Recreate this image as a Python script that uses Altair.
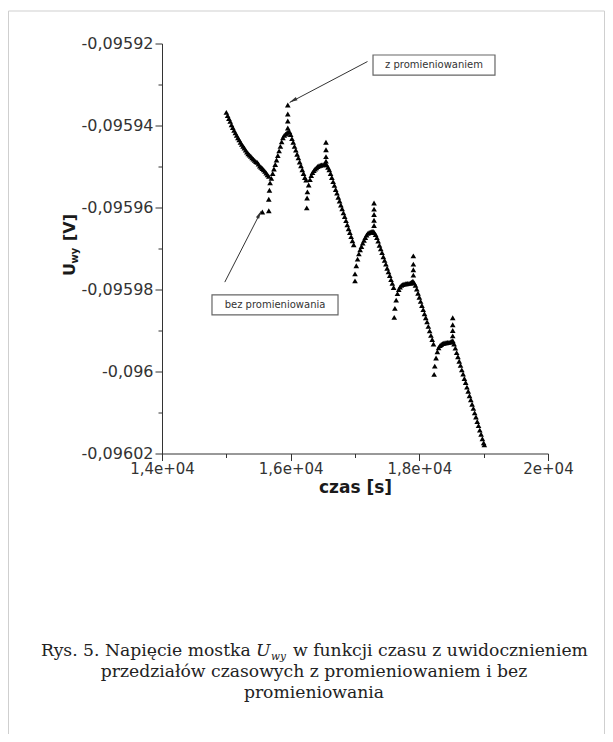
import altair as alt
import pandas as pd

# ---------------- data: time [s] and bridge voltage U_wy [V] ----------------
seg1_t = [15000, 15020, 15040, 15060, 15080, 15100, 15120, 15140, 15160, 15180,
          15200, 15220, 15240, 15260, 15280, 15300, 15320, 15340, 15360, 15380,
          15400, 15420, 15440, 15460, 15480, 15500, 15520, 15540, 15560, 15580,
          15600, 15620, 15640, 15660]
seg1_u = [-0.0959368, -0.0959376, -0.0959383, -0.0959390, -0.0959398, -0.0959405, -0.0959412, -0.0959418, -0.0959424, -0.0959430,
          -0.0959435, -0.0959441, -0.0959446, -0.0959451, -0.0959455, -0.0959460, -0.0959465, -0.0959469, -0.0959472, -0.0959475,
          -0.0959479, -0.0959482, -0.0959485, -0.0959488, -0.0959490, -0.0959494, -0.0959499, -0.0959502, -0.0959505, -0.0959508,
          -0.0959512, -0.0959516, -0.0959520, -0.0959524]
jump1_t = [15560, 15660, 15660, 15670]
jump1_u = [-0.0959611, -0.0959608, -0.0959580, -0.0959558]

seg2_t = [15680, 15700, 15720, 15740, 15760, 15780, 15800, 15820, 15840, 15860, 15880, 15900, 15920, 15940, 15960, 15980]
seg2_u = [-0.0959540, -0.0959529, -0.0959517, -0.0959506, -0.0959495, -0.0959484, -0.0959473, -0.0959462, -0.0959451, -0.0959440,
          -0.0959430, -0.0959424, -0.0959421, -0.0959419, -0.0959416, -0.0959415]
peak1_t = [15955, 15955, 15955, 15955]
peak1_u = [-0.0959406, -0.0959389, -0.0959372, -0.0959350]

seg3_t = [16000, 16020, 16040, 16060, 16080, 16100, 16120, 16140, 16160, 16180, 16200, 16220, 16240]
seg3_u = [-0.0959422, -0.0959432, -0.0959441, -0.0959451, -0.0959460, -0.0959470, -0.0959479, -0.0959489, -0.0959498, -0.0959508,
          -0.0959517, -0.0959527, -0.0959533]
dip2_t = [16250, 16255]
dip2_u = [-0.0959601, -0.0959577]

seg4_t = [16260, 16280, 16300, 16320, 16340, 16360, 16380, 16400, 16420, 16440, 16460, 16480, 16500, 16520, 16540, 16560, 16580]
seg4_u = [-0.0959562, -0.0959545, -0.0959532, -0.0959522, -0.0959515, -0.0959510, -0.0959506, -0.0959503, -0.0959500, -0.0959498,
          -0.0959497, -0.0959496, -0.0959496, -0.0959495, -0.0959493, -0.0959496, -0.0959502]
peak2_t = [16549, 16549, 16549, 16549]
peak2_u = [-0.0959441, -0.0959459, -0.0959476, -0.0959487]

seg5_t = [16600, 16620, 16640, 16660, 16680, 16700, 16720, 16740, 16760, 16780,
          16800, 16820, 16840, 16860, 16880, 16900, 16920, 16940, 16960, 16980]
seg5_u = [-0.0959508, -0.0959517, -0.0959527, -0.0959537, -0.0959546, -0.0959556, -0.0959565, -0.0959575, -0.0959584, -0.0959594,
          -0.0959603, -0.0959613, -0.0959622, -0.0959632, -0.0959642, -0.0959652, -0.0959661, -0.0959671, -0.0959681, -0.0959691]
dip3_t = [17000]
dip3_u = [-0.0959779]

seg6_t = [17000, 17020, 17040, 17060, 17080, 17100, 17120, 17140, 17160, 17180, 17200, 17220, 17240, 17260, 17280, 17300, 17320]
seg6_u = [-0.0959762, -0.0959742, -0.0959726, -0.0959713, -0.0959703, -0.0959695, -0.0959687, -0.0959680, -0.0959673, -0.0959667,
          -0.0959663, -0.0959661, -0.0959660, -0.0959659, -0.0959658, -0.0959661, -0.0959666]
peak3_t = [17296, 17296, 17296, 17296, 17296]
peak3_u = [-0.0959589, -0.0959604, -0.0959617, -0.0959631, -0.0959644]

seg7_t = [17340, 17360, 17380, 17400, 17420, 17440, 17460, 17480, 17500, 17520, 17540, 17560, 17580, 17600]
seg7_u = [-0.0959673, -0.0959682, -0.0959692, -0.0959701, -0.0959710, -0.0959720, -0.0959729, -0.0959738, -0.0959748, -0.0959757,
          -0.0959766, -0.0959776, -0.0959785, -0.0959795]
dip4_t = [17610]
dip4_u = [-0.0959868]

seg8_t = [17620, 17640, 17660, 17680, 17700, 17720, 17740, 17760, 17780, 17800, 17820, 17840, 17860, 17880, 17900, 17920]
seg8_u = [-0.0959846, -0.0959826, -0.0959810, -0.0959800, -0.0959794, -0.0959790, -0.0959788, -0.0959787, -0.0959786, -0.0959786,
          -0.0959785, -0.0959785, -0.0959784, -0.0959782, -0.0959780, -0.0959784]
peak4_t = [17907, 17907, 17907, 17907]
peak4_u = [-0.0959718, -0.0959738, -0.0959752, -0.0959765]

seg9_t = [17940, 17960, 17980, 18000, 18020, 18040, 18060, 18080, 18100, 18120, 18140, 18160, 18180, 18200, 18220]
seg9_u = [-0.0959790, -0.0959799, -0.0959809, -0.0959819, -0.0959829, -0.0959839, -0.0959849, -0.0959859, -0.0959869, -0.0959879,
          -0.0959890, -0.0959901, -0.0959912, -0.0959922, -0.0959933]
dip5_t = [18230]
dip5_u = [-0.0960007]

seg10_t = [18240, 18260, 18280, 18300, 18320, 18340, 18360, 18380, 18400, 18420, 18440, 18460, 18480, 18500, 18520, 18540]
seg10_u = [-0.0959987, -0.0959967, -0.0959952, -0.0959942, -0.0959937, -0.0959934, -0.0959932, -0.0959931, -0.0959930, -0.0959930,
           -0.0959929, -0.0959929, -0.0959928, -0.0959927, -0.0959925, -0.0959933]
peak5_t = [18519, 18519, 18519, 18519]
peak5_u = [-0.0959869, -0.0959886, -0.0959900, -0.0959913]

seg11_t = [18560, 18580, 18600, 18620, 18640, 18660, 18680, 18700, 18720, 18740, 18760, 18780,
           18800, 18820, 18840, 18860, 18880, 18900, 18920, 18940, 18960, 18980, 19000, 19010]
seg11_u = [-0.0959943, -0.0959954, -0.0959964, -0.0959975, -0.0959985, -0.0959996, -0.0960006, -0.0960017, -0.0960027, -0.0960038,
           -0.0960048, -0.0960059, -0.0960069, -0.0960080, -0.0960090, -0.0960101, -0.0960111, -0.0960122, -0.0960132, -0.0960143,
           -0.0960153, -0.0960164, -0.0960174, -0.0960179]

# axis ticks
x_ticks = [14000, 14500, 15000, 15500, 16000, 16500, 17000, 17500, 18000, 18500, 19000, 19500, 20000]
y_ticks = [-0.09592, -0.095925, -0.09593, -0.095935, -0.09594, -0.095945, -0.09595, -0.095955,
           -0.09596, -0.095965, -0.09597, -0.095975, -0.09598, -0.095985, -0.09599, -0.095995,
           -0.096, -0.096005, -0.09601, -0.096015, -0.09602]

# annotations (data coordinates)
box_labels = ["z promieniowaniem", "bez promieniowania"]
box_t1 = [17280, 14777]
box_t2 = [19176, 16736]
box_u1 = [-0.0959228, -0.0959813]
box_u2 = [-0.0959277, -0.0959862]
box_tc = [18228, 15757]
box_uc = [-0.09592525, -0.09598375]

arrow_t0 = [17194, 14976]
arrow_u0 = [-0.0959244, -0.0959782]
arrow_t1 = [15984, 15541]
arrow_u1 = [-0.0959344, -0.0959609]
head_t = [16038, 15513]
head_u = [-0.0959339, -0.0959617]
head_angle = [242, 27]

# ---------------- build tables ----------------
pairs = [(seg1_t, seg1_u), (jump1_t, jump1_u), (seg2_t, seg2_u), (peak1_t, peak1_u),
         (seg3_t, seg3_u), (dip2_t, dip2_u), (seg4_t, seg4_u), (peak2_t, peak2_u),
         (seg5_t, seg5_u), (dip3_t, dip3_u), (seg6_t, seg6_u), (peak3_t, peak3_u),
         (seg7_t, seg7_u), (dip4_t, dip4_u), (seg8_t, seg8_u), (peak4_t, peak4_u),
         (seg9_t, seg9_u), (dip5_t, dip5_u), (seg10_t, seg10_u), (peak5_t, peak5_u),
         (seg11_t, seg11_u)]
rows = []
for ts, us in pairs:
    assert len(ts) == len(us)
    rows += [{"t": a, "u": b} for a, b in zip(ts, us)]
df = pd.DataFrame(rows)

boxes = pd.DataFrame({"t": box_t1, "t2": box_t2, "u": box_u1, "u2": box_u2,
                      "tc": box_tc, "uc": box_uc, "label": box_labels})
arrows = pd.DataFrame({"t": arrow_t0, "u": arrow_u0, "t2": arrow_t1, "u2": arrow_u1})
heads = pd.DataFrame({"t": head_t, "u": head_u, "ang": head_angle})
one = pd.DataFrame({"k": [0]})

XT = "czas [s]"
xs = alt.Scale(domain=[14000, 20000], nice=False, zero=False)
ys = alt.Scale(domain=[-0.09602, -0.09592], nice=False, zero=False)

x_major = "datum.value % 2000 === 0"
y_major = "round(datum.value * 1e6) % 20 === 0"

x_axis = alt.Axis(
    values=x_ticks,
    labelExpr=x_major + " ? (datum.value === 20000 ? '2e+04' : replace(format(datum.value / 10000, '.1f'), '.', ',') + 'e+04') : ''",
    title=XT, titleFont="DejaVu Sans", titleFontSize=17, titleFontWeight="bold", titleColor="#1a1a1a",
    titlePadding=3, labelFont="DejaVu Sans", labelFontSize=15, labelColor="#333333", labelPadding=1,
    labelFlush=False, labelOverlap=False, grid=False,
    tickSize={"condition": {"test": x_major, "value": 7}, "value": 4},
    tickColor="#333333", domainColor="#333333", tickWidth=1, domainWidth=1,
)
y_axis = alt.Axis(
    values=y_ticks,
    labelExpr=y_major + " ? '-' + replace(format(-datum.value, '.5~f'), '.', ',') : ''",
    title=None, labelFont="DejaVu Sans", labelFontSize=16, labelColor="#333333", labelPadding=2,
    labelFlush=False, labelOverlap=False, grid=False,
    tickSize={"condition": {"test": y_major, "value": 7}, "value": 4},
    tickColor="#333333", domainColor="#333333", tickWidth=1, domainWidth=1,
)

points = alt.Chart(df).mark_point(shape="triangle-up", filled=True, color="black",
                                  size=32, opacity=1, strokeWidth=0).encode(
    x=alt.X("t:Q", scale=xs, axis=x_axis),
    y=alt.Y("u:Q", scale=ys, axis=y_axis),
)

arrow_lines = alt.Chart(arrows).mark_rule(color="#333333", strokeWidth=1).encode(
    x=alt.X("t:Q", scale=xs, title=XT), x2="t2:Q",
    y=alt.Y("u:Q", scale=ys, title=None), y2="u2:Q",
)
arrow_heads = alt.Chart(heads).mark_point(shape="M0,-1L0.45,1L-0.45,1Z", filled=True,
                                          color="#333333", size=64, opacity=1, strokeWidth=0).encode(
    x=alt.X("t:Q", scale=xs, title=XT),
    y=alt.Y("u:Q", scale=ys, title=None),
    angle=alt.Angle("ang:Q", scale=None),
)
box_rects = alt.Chart(boxes).mark_rect(fill="white", stroke="#666666", strokeWidth=1.2).encode(
    x=alt.X("t:Q", scale=xs, title=XT), x2="t2:Q",
    y=alt.Y("u:Q", scale=ys, title=None), y2="u2:Q",
)
box_texts = alt.Chart(boxes).mark_text(font="DejaVu Sans", fontSize=10, color="#333333").encode(
    x=alt.X("tc:Q", scale=xs, title=XT),
    y=alt.Y("uc:Q", scale=ys, title=None),
    text="label:N",
)

# y-axis title  U_wy [V]
yt_U = alt.Chart(one).mark_text(text="U", angle=270, font="DejaVu Sans", fontWeight="bold",
                                fontSize=16, color="#1a1a1a").encode(x=alt.value(-92), y=alt.value(226))
yt_wy = alt.Chart(one).mark_text(text="wy", angle=270, font="DejaVu Sans", fontWeight="bold",
                                 fontSize=10, color="#1a1a1a").encode(x=alt.value(-87), y=alt.value(212))
yt_V = alt.Chart(one).mark_text(text="[V]", angle=270, font="DejaVu Sans", fontWeight="bold",
                                fontSize=16, color="#1a1a1a").encode(x=alt.value(-92), y=alt.value(184))

# caption
SERIF = "DejaVu Serif"
CS = 17.2
cap1a = alt.Chart(one).mark_text(text="Rys. 5. Napięcie mostka", font=SERIF, fontSize=CS, align="left",
                                 baseline="alphabetic", color="#222222").encode(x=alt.value(-121), y=alt.value(612))
cap1U = alt.Chart(one).mark_text(text="U", font=SERIF, fontSize=CS, fontStyle="italic", align="left",
                                 baseline="alphabetic", color="#222222").encode(x=alt.value(94), y=alt.value(612))
cap1wy = alt.Chart(one).mark_text(text="wy", font=SERIF, fontSize=10.5, fontStyle="italic", align="left",
                                  baseline="alphabetic", color="#222222").encode(x=alt.value(109), y=alt.value(616))
cap1b = alt.Chart(one).mark_text(text="w funkcji czasu z uwidocznieniem", font=SERIF, fontSize=CS, align="left",
                                 baseline="alphabetic", color="#222222").encode(x=alt.value(131), y=alt.value(612))
cap2 = alt.Chart(one).mark_text(text="przedziałów czasowych z promieniowaniem i bez", font=SERIF, fontSize=CS,
                                align="center", baseline="alphabetic", color="#222222").encode(x=alt.value(152), y=alt.value(633))
cap3 = alt.Chart(one).mark_text(text="promieniowania", font=SERIF, fontSize=CS,
                                align="center", baseline="alphabetic", color="#222222").encode(x=alt.value(152), y=alt.value(654))

# figure frame
FR = "#cfcfcf"
fr_top = alt.Chart(one).mark_rule(color=FR, strokeWidth=1).encode(
    x=alt.value(-153.5), x2=alt.value(442.5), y=alt.value(-32.5))
fr_left = alt.Chart(one).mark_rule(color=FR, strokeWidth=1).encode(
    x=alt.value(-153.5), y=alt.value(-32.5), y2=alt.value(700))
fr_right = alt.Chart(one).mark_rule(color=FR, strokeWidth=1).encode(
    x=alt.value(442.5), y=alt.value(-32.5), y2=alt.value(700))

chart = alt.layer(
    fr_top, fr_left, fr_right,
    points, arrow_lines, arrow_heads, box_rects, box_texts,
    yt_U, yt_wy, yt_V,
    cap1a, cap1U, cap1wy, cap1b, cap2, cap3,
).properties(
    width=386, height=410,
    padding={"left": 154, "top": 35.5, "right": 57, "bottom": 280},
    autosize=alt.AutoSizeParams(type="none"),
    background="white",
).configure_view(strokeWidth=0)

chart.save("out.html", embed_options={"renderer": "svg", "actions": False})
